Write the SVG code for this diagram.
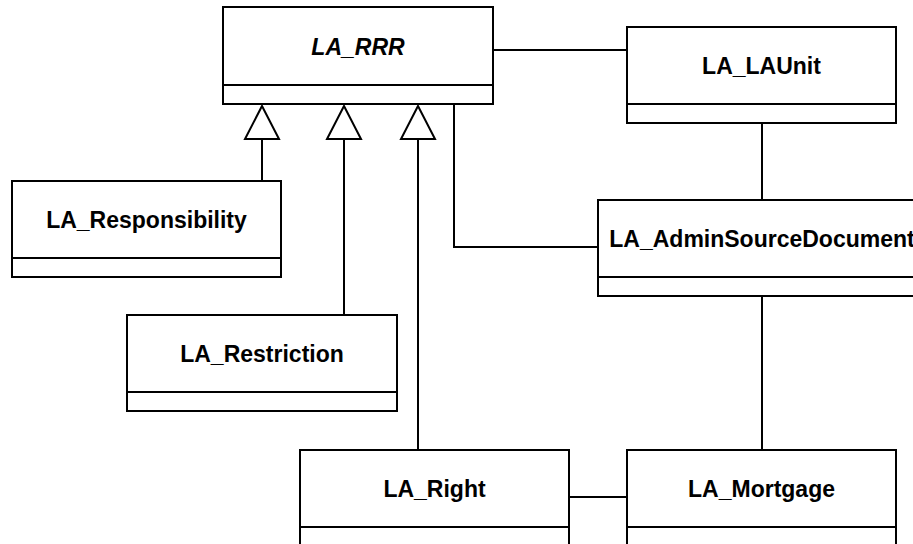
<svg xmlns="http://www.w3.org/2000/svg" width="913" height="544" viewBox="0 0 913 544">
  <style>
    .box { fill: #ffffff; stroke: #000000; stroke-width: 2; }
    .div { stroke: #000000; stroke-width: 2; fill: none; }
    .edge { stroke: #000000; stroke-width: 2; fill: none; }
    .gen { fill: #ffffff; stroke: #000000; stroke-width: 2; stroke-linejoin: miter; }
    .name { font-family: "Liberation Sans", Arial, Helvetica, sans-serif; font-size: 23px; font-weight: bold; fill: #000000; text-anchor: middle; }
    .abstract { font-style: italic; }
  </style>

  <!-- class nodes: name compartment + empty attribute compartment -->
  <g id="LA_RRR">
    <rect class="box" x="223" y="7" width="270" height="97"/>
    <line class="div" x1="223" y1="85" x2="493" y2="85"/>
    <text class="name abstract" x="358" y="54.5">LA_RRR</text>
  </g>

  <g id="LA_LAUnit">
    <rect class="box" x="627" y="27" width="269" height="96"/>
    <line class="div" x1="627" y1="104" x2="896" y2="104"/>
    <text class="name" x="761.5" y="74">LA_LAUnit</text>
  </g>

  <g id="LA_Responsibility">
    <rect class="box" x="12" y="181" width="269" height="96"/>
    <line class="div" x1="12" y1="258" x2="281" y2="258"/>
    <text class="name" x="146.5" y="228">LA_Responsibility</text>
  </g>

  <g id="LA_AdminSourceDocument">
    <rect class="box" x="598" y="200" width="328" height="96"/>
    <line class="div" x1="598" y1="277" x2="926" y2="277"/>
    <text class="name" x="762" y="247">LA_AdminSourceDocument</text>
  </g>

  <g id="LA_Restriction">
    <rect class="box" x="127" y="315" width="270" height="96"/>
    <line class="div" x1="127" y1="392" x2="397" y2="392"/>
    <text class="name" x="262" y="362">LA_Restriction</text>
  </g>

  <g id="LA_Right">
    <rect class="box" x="300" y="450" width="269" height="100"/>
    <line class="div" x1="300" y1="527" x2="569" y2="527"/>
    <text class="name" x="434.5" y="497">LA_Right</text>
  </g>

  <g id="LA_Mortgage">
    <rect class="box" x="627" y="450" width="269" height="100"/>
    <line class="div" x1="627" y1="527" x2="896" y2="527"/>
    <text class="name" x="761.5" y="497">LA_Mortgage</text>
  </g>

  <!-- connectors -->
  <g id="connectors">
    <!-- generalisations to LA_RRR (hollow triangle heads) -->
    <path class="edge" d="M262 181 V139"/>
    <polygon class="gen" points="262,106 279,139 245,139"/>
    <path class="edge" d="M344 315 V139"/>
    <polygon class="gen" points="344,106 361,139 327,139"/>
    <path class="edge" d="M418 450 V139"/>
    <polygon class="gen" points="418,106 435,139 401,139"/>

    <!-- associations -->
    <path class="edge" d="M493 50 H627"/>
    <path class="edge" d="M454 104 V247 H598"/>
    <path class="edge" d="M762 123 V200"/>
    <path class="edge" d="M762 296 V450"/>
    <path class="edge" d="M569 497 H627"/>
  </g>
</svg>
